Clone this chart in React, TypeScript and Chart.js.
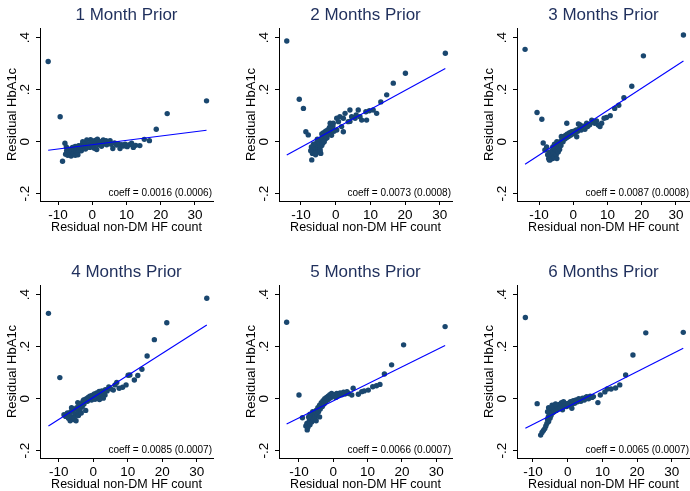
import React, { useEffect, useRef } from "react";
import { Chart, registerables } from "chart.js";

Chart.register(...registerables);

const FONT = '"Liberation Sans", Arial, Helvetica, sans-serif';

const panelTitles = [
  "1 Month Prior",
  "2 Months Prior",
  "3 Months Prior",
  "4 Months Prior",
  "5 Months Prior",
  "6 Months Prior",
];

const coeffLabels = [
  "coeff = 0.0016 (0.0006)",
  "coeff = 0.0073 (0.0008)",
  "coeff = 0.0087 (0.0008)",
  "coeff = 0.0085 (0.0007)",
  "coeff = 0.0066 (0.0007)",
  "coeff = 0.0065 (0.0007)",
];

const xTicks = [-10, 0, 10, 20, 30];
const yTicks = [-0.2, 0, 0.2, 0.4];
const yRange = [-0.228, 0.437];
const xRanges = [
  [-15.29, 35.29],
  [-16.34, 33.52],
  [-16.46, 34.12],
  [-15.45, 34.7],
  [-15.83, 34.61],
  [-14.61, 35.24],
];

const xTitle = "Residual non-DM HF count";
const yTitle = "Residual HbA1c";

const month1Points = [
  [-12.9, 0.308], [-9.4, 0.096], [-8.7, -0.075], [18.7, 0.048], [21.9, 0.108], [33.4, 0.157],
  [-8.0, -0.006], [-7.6, -0.02], [-7.8, -0.048], [-7.5, -0.035], [-7.2, -0.052], [-7.0, -0.028],
  [-6.8, -0.042], [-6.5, -0.05], [-6.3, -0.03], [-6.2, -0.055], [-6.0, -0.038], [-5.8, -0.022],
  [-5.5, -0.045], [-5.3, -0.03], [-5.0, -0.018], [-5.0, -0.052], [-4.8, -0.036], [-4.5, -0.025],
  [-4.3, -0.042], [-4.2, -0.05], [-4.0, -0.015], [-3.8, -0.03], [-3.5, -0.02], [-3.2, -0.035],
  [-3.0, -0.012], [-2.8, -0.025], [-2.8, 0.0], [-2.5, -0.018], [-2.2, -0.008], [-2.0, -0.028],
  [-1.8, -0.015], [-1.6, 0.007], [-1.3, -0.02], [-1.0, -0.01], [-0.7, -0.022], [-0.5, 0.008],
  [-0.4, -0.005], [0.0, -0.015], [0.3, -0.013], [0.6, -0.025], [0.8, 0.005], [1.0, -0.008],
  [1.3, -0.03], [1.5, 0.01], [1.7, -0.012], [2.0, -0.004], [2.3, 0.0], [2.7, -0.018],
  [3.2, 0.007], [3.5, -0.008], [4.0, 0.004], [4.2, -0.012], [4.8, 0.0], [5.2, 0.004],
  [5.5, -0.01], [6.0, -0.026], [6.5, -0.005], [7.1, -0.013], [7.6, -0.008], [8.1, -0.026],
  [8.6, -0.012], [9.1, -0.017], [9.6, -0.01], [10.2, -0.019], [10.8, -0.012], [11.5, -0.006],
  [12.0, -0.022], [12.7, -0.014], [13.9, -0.015], [15.2, 0.009], [16.7, 0.004],
];

const month2Points = [
  [-14.1, 0.387], [-10.5, 0.163], [-9.3, 0.128], [31.6, 0.34], [20.1, 0.263], [16.6, 0.225],
  [14.7, 0.18], [13.0, 0.153], [-8.6, 0.038], [-7.9, 0.026], [-6.9, -0.07],
  [11.8, 0.109], [10.8, 0.122], [9.7, 0.119], [8.7, 0.115], [8.9, 0.083], [7.5, 0.083],
  [7.0, 0.096], [6.5, 0.122], [5.9, 0.103], [4.1, 0.122], [4.6, 0.096], [3.6, 0.077],
  [2.7, 0.109], [2.2, 0.09], [1.2, 0.096], [0.8, 0.077], [1.7, 0.058], [2.2, 0.038],
  [0.3, 0.045], [-0.7, 0.071], [-1.6, 0.071], [-1.6, 0.045], [0.3, 0.09], [4.1, 0.078], [5.6, 0.09],
  [-0.8, 0.06], [-1.0, 0.05], [-1.3, 0.04], [-1.8, 0.055], [-2.0, 0.035], [-2.3, 0.045],
  [-2.6, 0.03], [-2.9, 0.04], [-3.2, 0.025], [-3.5, 0.035], [-3.8, 0.018], [-4.0, 0.03],
  [-0.5, 0.04], [-1.2, 0.025], [-2.5, 0.015], [-3.0, 0.01], [-4.2, 0.01], [-4.5, 0.0],
  [-4.8, -0.01], [-5.0, 0.005], [-5.2, -0.02], [-5.5, -0.005], [-5.7, -0.03], [-6.0, -0.015],
  [-6.2, -0.04], [-6.5, -0.025], [-6.7, -0.045], [-5.0, -0.04], [-4.5, -0.03], [-4.0, -0.015],
  [-5.8, -0.05], [-6.4, -0.01], [-7.0, -0.02], [-7.2, -0.035], [-5.3, 0.01], [-4.3, -0.045],
  [-3.7, -0.005], [-6.0, -0.045], [-4.5, -0.038], [-3.3, 0.0], [-2.8, 0.02],
];

const month3Points = [
  [-14.1, 0.355], [-10.6, 0.112], [-9.2, 0.086], [32.2, 0.41], [20.5, 0.33], [17.1, 0.213],
  [14.8, 0.169], [13.3, 0.14], [12.1, 0.128], [10.8, 0.1], [9.7, 0.093], [9.0, 0.09],
  [8.3, 0.071], [7.8, 0.058], [7.3, 0.064], [6.3, 0.071], [5.4, 0.083], [3.9, 0.071],
  [3.4, 0.048], [2.0, 0.064], [1.5, 0.068], [1.0, 0.019], [-1.9, 0.071], [-8.8, -0.005], [-8.3, -0.032],
  [-7.8, -0.02], [-7.5, -0.05], [-7.2, -0.065], [-7.0, -0.04], [-6.8, -0.07], [-6.5, -0.055],
  [-6.2, -0.035], [-6.0, -0.065], [-5.8, -0.045], [-5.5, -0.06], [-5.2, -0.03], [-5.0, -0.05],
  [-4.8, -0.065], [-4.6, -0.02], [-4.4, -0.04], [-4.2, -0.01], [-4.0, -0.03], [-3.8, 0.0],
  [-3.6, -0.015], [-3.3, 0.01], [-3.0, 0.0], [-2.8, 0.02], [-2.5, 0.01], [-2.2, 0.025],
  [-2.0, 0.015], [-1.7, 0.03], [-1.4, 0.02], [-1.1, 0.035], [-0.8, 0.025], [-0.5, 0.038],
  [-0.2, 0.03], [0.2, 0.04], [0.5, 0.033], [0.9, 0.045], [1.3, 0.04], [1.8, 0.05],
  [2.3, 0.045], [2.8, 0.055], [3.0, 0.06], [4.2, 0.058], [4.8, 0.065], [5.8, 0.075],
  [6.8, 0.08], [-6.0, -0.02], [-5.5, -0.01], [-7.0, -0.07], [-4.8, 0.0], [-3.5, 0.02],
];

const month4Points = [
  [-13.0, 0.328], [-9.7, 0.081], [32.9, 0.386], [21.3, 0.292], [17.7, 0.227], [15.6, 0.164],
  [14.1, 0.113], [12.9, 0.089], [11.9, 0.072], [10.6, 0.091], [10.1, 0.09], [9.5, 0.053],
  [8.5, 0.044], [7.5, 0.04], [6.8, 0.062], [6.3, 0.053], [5.8, 0.033], [3.4, 0.014],
  [2.9, 0.002], [2.4, 0.008], [1.4, 0.001],
  [-8.5, -0.062], [-8.0, -0.068], [-7.5, -0.055], [-7.2, -0.075], [-7.0, -0.06], [-6.7, -0.085],
  [-6.5, -0.05], [-6.2, -0.07], [-6.0, -0.045], [-5.8, -0.08], [-5.5, -0.04], [-5.3, -0.06],
  [-5.0, -0.085], [-4.8, -0.035], [-4.5, -0.05], [-4.3, -0.065], [-4.0, -0.025], [-3.8, -0.04],
  [-3.5, -0.02], [-3.2, -0.03], [-3.0, -0.01], [-2.7, -0.02], [-2.5, -0.005], [-2.2, -0.045],
  [-2.0, 0.0], [-1.7, -0.01], [-1.5, 0.005], [-1.2, 0.0], [-1.0, 0.01], [-0.7, 0.005],
  [-0.4, 0.012], [0.0, 0.008], [0.3, 0.018], [0.6, 0.012], [1.0, 0.022], [1.3, 0.015],
  [1.7, 0.028], [2.0, 0.02], [2.5, 0.03], [3.0, 0.025], [3.5, 0.035], [4.0, 0.03],
  [4.5, 0.045], [5.0, 0.038], [-6.3, -0.035], [-5.5, -0.075], [-3.5, -0.055], [-2.8, -0.005],
  [-0.5, -0.005], [0.5, -0.002], [1.8, -0.003], [-4.5, -0.015],
];

const month5Points = [
  [-13.6, 0.294], [-10.0, 0.014], [32.6, 0.277], [20.5, 0.207], [17.0, 0.13], [14.9, 0.095],
  [13.6, 0.055], [12.6, 0.05], [11.5, 0.046], [10.2, 0.033], [9.0, 0.03], [8.3, 0.027],
  [7.3, 0.017], [5.8, 0.04], [5.4, 0.014], [-9.0, -0.073], [-7.6, -0.12],
  [-8.0, -0.105], [-7.7, -0.095], [-7.4, -0.11], [-7.0, -0.085], [-6.8, -0.1], [-6.5, -0.075],
  [-6.3, -0.09], [-6.0, -0.065], [-5.8, -0.08], [-5.5, -0.055], [-5.3, -0.07], [-5.0, -0.045],
  [-4.8, -0.06], [-4.5, -0.035], [-4.3, -0.05], [-4.0, -0.025], [-3.8, -0.04], [-3.5, -0.015],
  [-3.2, -0.03], [-3.0, -0.008], [-2.7, -0.02], [-2.5, 0.0], [-2.2, -0.012], [-2.0, 0.005],
  [-1.7, -0.005], [-1.5, 0.01], [-1.2, 0.0], [-1.0, 0.015], [-0.7, 0.005], [-0.5, 0.02],
  [0.0, 0.01], [0.3, 0.015], [0.7, 0.005], [1.0, 0.02], [1.5, 0.012], [2.0, 0.022],
  [2.5, 0.015], [3.0, 0.025], [3.4, 0.018], [4.0, 0.027], [4.5, 0.02], [-6.0, -0.05],
  [-6.8, -0.06], [-5.0, -0.085], [-4.0, -0.07], [-7.2, -0.07],
];

const month6Points = [
  [-12.2, 0.312], [-8.8, -0.019], [33.3, 0.255], [22.5, 0.253], [18.8, 0.168], [16.7, 0.091],
  [15.0, 0.053], [13.8, 0.041], [12.5, 0.037], [11.4, 0.037], [10.7, 0.026], [9.4, 0.014],
  [8.7, -0.015], [7.4, 0.008], [5.5, 0.008], [3.5, -0.005], [1.2, -0.037], [-1.5, -0.043],
  [-7.8, -0.14], [-7.4, -0.13], [-7.0, -0.122], [-6.6, -0.115], [-6.3, -0.105], [-6.0, -0.095],
  [-5.8, -0.08], [-5.6, -0.07], [-5.5, -0.088], [-5.3, -0.06], [-5.1, -0.075], [-5.0, -0.05],
  [-4.8, -0.065], [-4.6, -0.045], [-5.8, -0.05],
  [-4.4, -0.055], [-4.2, -0.04], [-3.9, -0.05], [-3.6, -0.035], [-3.3, -0.045], [-3.0, -0.03],
  [-2.7, -0.04], [-2.4, -0.022], [-2.1, -0.035], [-1.8, -0.015], [-1.5, -0.028], [-1.2, -0.012],
  [-0.9, -0.025], [-0.6, -0.02], [-0.3, -0.03], [0.0, -0.018], [0.4, -0.025], [0.8, -0.012],
  [1.2, -0.02], [1.6, -0.008], [2.0, -0.018], [2.4, -0.005], [2.8, -0.012], [3.2, 0.0],
  [3.8, -0.01], [4.3, 0.002], [4.8, -0.005], [5.2, 0.005], [6.0, 0.0], [6.5, 0.01],
  [7.0, 0.005], [-5.5, -0.035], [-4.5, -0.025], [-3.5, -0.02],
];

const month1Fit = [[-12.9, -0.033], [33.4, 0.044]];
const month2Fit = [[-14.1, -0.051], [31.6, 0.281]];
const month3Fit = [[-14.1, -0.087], [32.2, 0.31]];
const month4Fit = [[-13.0, -0.105], [32.9, 0.283]];
const month5Fit = [[-13.6, -0.097], [32.6, 0.204]];
const month6Fit = [[-12.2, -0.114], [33.3, 0.194]];

const allPoints = [month1Points, month2Points, month3Points, month4Points, month5Points, month6Points];
const allFits = [month1Fit, month2Fit, month3Fit, month4Fit, month5Fit, month6Fit];

const canvasLefts = [0, 239, 477];
const canvasTops = [0, 257];
const CW = 230;
const CH = 245;

const fmtY = (v: number) => {
  if (Math.abs(v) < 1e-9) return "0";
  const s = String(Math.abs(v)).replace(/^0/, "");
  return (v < 0 ? "-" : "") + s;
};

const panelTextPlugin = {
  id: "panelText",
  afterDraw(chart: any, _args: any, opts: any) {
    const { ctx, chartArea } = chart;
    ctx.save();
    ctx.font = `17px ${FONT}`;
    ctx.fillStyle = "#1f2f5c";
    ctx.textAlign = "center";
    ctx.textBaseline = "middle";
    ctx.fillText(opts.title, (chartArea.left + chartArea.right) / 2, chartArea.top - 12.5);
    ctx.font = `10px ${FONT}`;
    ctx.fillStyle = "#000";
    ctx.textAlign = "right";
    ctx.fillText(opts.coeff, chartArea.right - 1, chartArea.bottom - 8);
    ctx.restore();
  },
};

function Panel({ idx }: { idx: number }) {
  const ref = useRef<HTMLCanvasElement | null>(null);
  useEffect(() => {
    if (!ref.current) return;
    const pts = allPoints[idx].map(([x, y]) => ({ x, y }));
    const fit = allFits[idx].map(([x, y]) => ({ x, y }));
    const axisGrid = {
      display: true,
      drawOnChartArea: false,
      drawTicks: true,
      tickLength: 4,
      color: "#000",
      lineWidth: 1,
    };
    const chart = new Chart(ref.current, {
      type: "scatter",
      data: {
        datasets: [
          {
            data: fit,
            showLine: true,
            borderColor: "#0000ff",
            borderWidth: 1.1,
            pointRadius: 0,
            fill: false,
          },
          {
            data: pts,
            pointRadius: 2.7,
            pointBackgroundColor: "#1a476f",
            backgroundColor: "#1a476f",
            pointBorderWidth: 0,
            borderWidth: 0,
          },
        ],
      },
      options: {
        animation: false,
        responsive: false,
        events: [],
        layout: { padding: { left: 0, right: 17, top: 28, bottom: 0 } },
        plugins: {
          legend: { display: false },
          tooltip: { enabled: false },
          panelText: { title: panelTitles[idx], coeff: coeffLabels[idx] },
        } as any,
        scales: {
          x: {
            type: "linear",
            position: "bottom",
            min: xRanges[idx][0],
            max: xRanges[idx][1],
            afterBuildTicks: (s: any) => {
              s.ticks = xTicks.map((v) => ({ value: v }));
            },
            afterFit: (s: any) => {
              s.height = 44;
            },
            ticks: {
              autoSkip: false,
              maxRotation: 0,
              minRotation: 0,
              padding: 2,
              color: "#000",
              font: { size: 13.5, family: FONT },
              callback: (v: any) => String(v),
            },
            grid: axisGrid,
            border: { display: true, color: "#000", width: 1 },
            title: {
              display: true,
              text: xTitle,
              color: "#000",
              font: { size: 12.5, family: FONT },
              padding: { top: 0, bottom: 9.5 },
            },
          },
          y: {
            type: "linear",
            position: "left",
            min: yRange[0],
            max: yRange[1],
            afterBuildTicks: (s: any) => {
              s.ticks = yTicks.map((v) => ({ value: v }));
            },
            afterFit: (s: any) => {
              s.width = 40;
            },
            ticks: {
              autoSkip: false,
              minRotation: 90,
              maxRotation: 90,
              crossAlign: "center",
              padding: 3,
              color: "#000",
              font: { size: 13.5, family: FONT },
              callback: (v: any) => fmtY(Number(v)),
            },
            grid: axisGrid,
            border: { display: true, color: "#000", width: 1 },
            title: {
              display: true,
              text: yTitle,
              color: "#000",
              font: { size: 13, family: FONT },
              padding: { top: 5, bottom: 0 },
            },
          },
        },
      } as any,
      plugins: [panelTextPlugin as any],
    });
    return () => chart.destroy();
  }, [idx]);
  const col = idx % 3;
  const row = Math.floor(idx / 3);
  return (
    <canvas
      ref={ref}
      width={CW}
      height={CH}
      style={{
        position: "absolute",
        left: canvasLefts[col],
        top: canvasTops[row],
        width: CW,
        height: CH,
      }}
    />
  );
}

export default function App() {
  return (
    <div
      style={{
        position: "absolute",
        left: 0,
        top: 0,
        width: 690,
        height: 491,
        overflow: "hidden",
        background: "#fff",
      }}
    >
      {[0, 1, 2, 3, 4, 5].map((i) => (
        <Panel key={i} idx={i} />
      ))}
    </div>
  );
}
